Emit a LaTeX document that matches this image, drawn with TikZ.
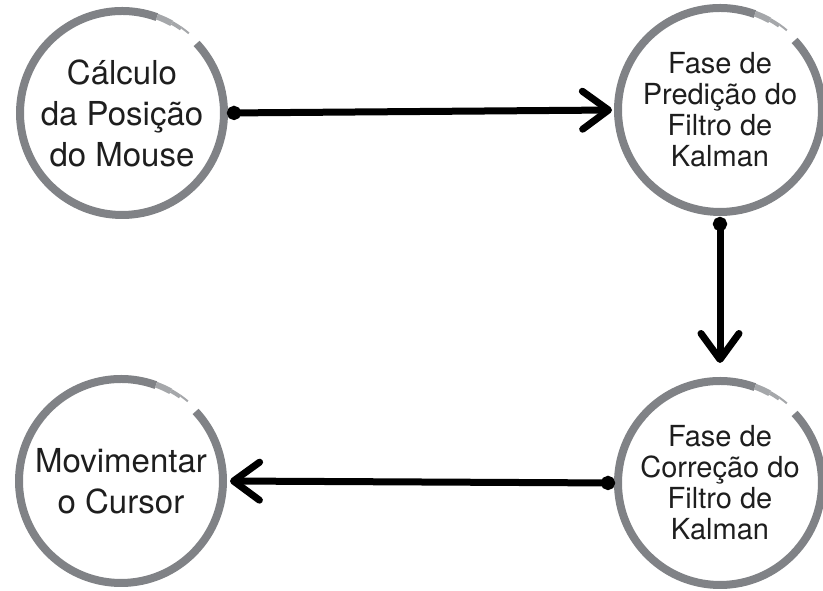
\documentclass[tikz,border=0pt]{standalone}
\usepackage{fontspec}
\setmainfont{TeX Gyre Heros}
\usetikzlibrary{arrows.meta}
\definecolor{ring}{RGB}{128,130,134}
\definecolor{ringlight}{RGB}{165,167,170}
\definecolor{ink}{RGB}{30,30,30}
\begin{document}
\begin{tikzpicture}[x=1pt,y=1pt,
  stage/.style={circle, minimum size=210pt, inner sep=0pt, outer sep=0pt, align=center, text=ink},
  bigtext/.style={font=\fontsize{33}{41}\selectfont},
  smalltext/.style={font=\fontsize{29}{31}\selectfont},
  brush/.style={draw=ring, line width=8pt},
  brushtail/.style={draw=ringlight},
  flow/.style={draw=black, line width=7pt, line cap=round,
    {Circle[length=14pt]}-{Straight Barb[length=26pt,width=38pt,line width=7pt,round]}}
]
\useasboundingbox (0,0) rectangle (823,591);

% the four stages
\node[stage, bigtext]   (calc) at (122,478) {Cálculo\\da Posição\\do Mouse};
\node[stage, smalltext] (pred) at (720,481) {Fase de\\Predição do\\Filtro de\\Kalman};
\node[stage, smalltext] (corr) at (720,108) {Fase de\\Correção do\\Filtro de\\Kalman};
\node[stage, bigtext]   (move) at (121,110) {Movimentar\\o Cursor};

% brush-stroke rings with a tapering gap at the upper right
\foreach \n in {calc,pred,corr,move} {
  \draw[brush] ([shift={(43:102)}]\n.center) arc[start angle=43, end angle=-290, radius=102];
  \draw[brushtail, line width=6pt] ([shift={(70:102.5)}]\n.center) arc[start angle=70, end angle=61, radius=102.5];
  \draw[brushtail, line width=4pt] ([shift={(61:103)}]\n.center) arc[start angle=61, end angle=55, radius=103];
  \draw[brushtail, line width=2pt] ([shift={(55:104)}]\n.center) arc[start angle=55, end angle=50, radius=104];
}

% flow between stages
\draw[flow, shorten >=3pt] (calc.east) -- (pred.west);
\draw[flow, shorten <=2pt, shorten >=15pt] (pred.south) -- (corr.north);
\draw[flow, shorten >=4pt] (corr.west) -- (move.east);
\end{tikzpicture}
\end{document}
